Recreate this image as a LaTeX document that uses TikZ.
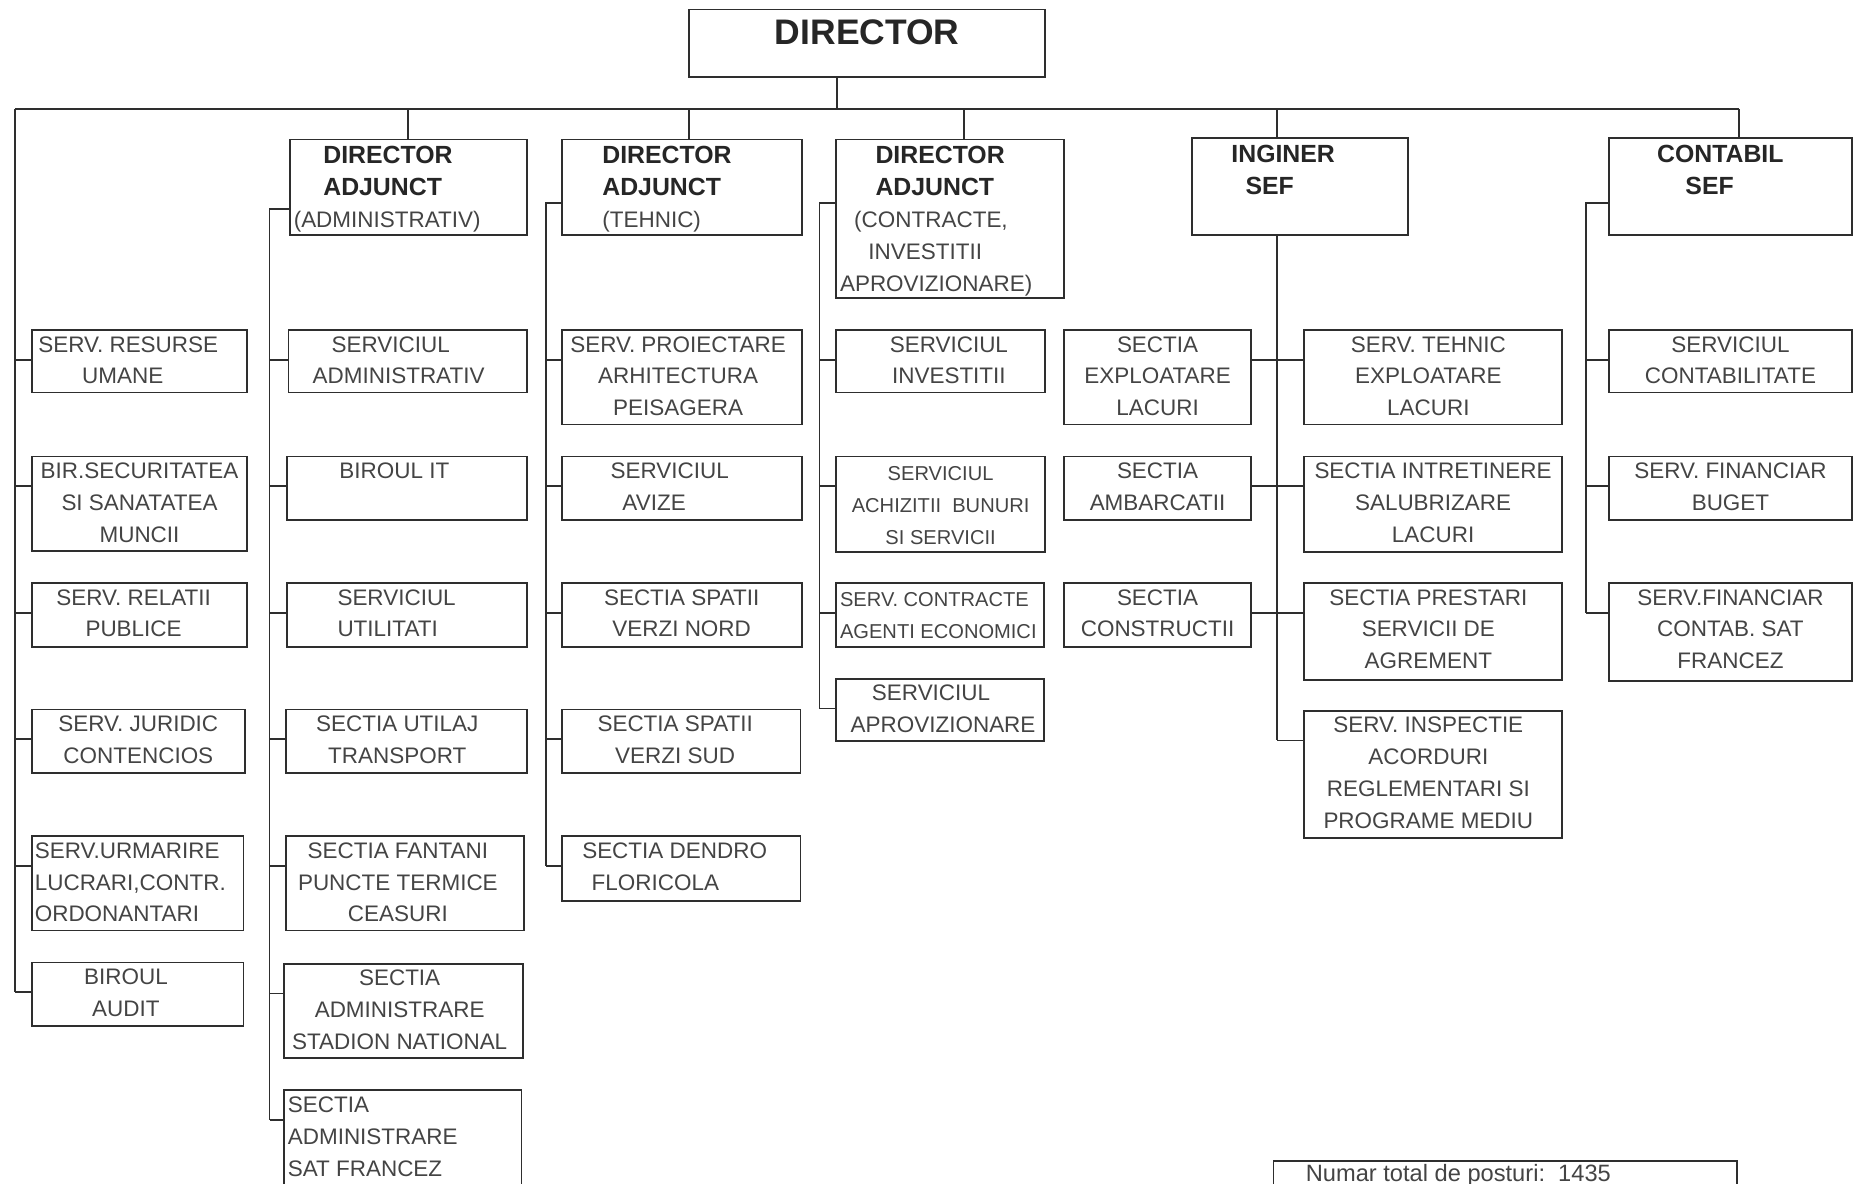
\documentclass[tikz,border=0pt]{standalone}
\usepackage{fontspec}
\setmainfont{Liberation Sans}
\usetikzlibrary{calc}
\definecolor{ln}{HTML}{2E2E2E}
\definecolor{tx}{HTML}{444444}
\definecolor{bt}{HTML}{262626}
\newcommand{\hb}[1]{{\fontsize{21}{27}\selectfont\bfseries\color{bt}#1}}
\newcommand{\bx}[7]{%
  \node[box,minimum width=#4pt-#2pt,minimum height=#5pt-#3pt] (#1) at ({(#2+#4)/2},{(#3+#5)/2}) {};
  \node[txt,anchor=north,#6] (#1t) at ($(#1.north)+(0,6)$) {#7};}
\newcommand{\bxl}[8]{%
  \node[box,minimum width=#4pt-#2pt,minimum height=#5pt-#3pt] (#1) at ({(#2+#4)/2},{(#3+#5)/2}) {};
  \node[txt,anchor=north west,align=left,#7] (#1t) at ($(#1.north west)+(#6,6)$) {#8};}
\newcommand{\cn}[2]{\path ($(#2.north west)+(0,26)$) coordinate (#2k); \draw[wire] (#2k) -- (#2k -| #1) coordinate (#2c);}
\newcommand{\cnr}[2]{\path ($(#2.north east)+(0,26)$) coordinate (#2k); \draw[wire] (#2k) -- (#2k -| #1) coordinate (#2c);}
\begin{document}
\begin{tikzpicture}[x=1pt,y=-1pt,
  box/.style={draw=ln,line width=1.5pt,rectangle,inner sep=0pt,fill=none},
  txt/.style={text=tx,font=\fontsize{19}{27}\selectfont,inner sep=0pt,align=center},
  sm/.style={font=\fontsize{17}{27}\selectfont,yshift=-3pt},
  wire/.style={draw=ln,line width=1.5pt}]
\useasboundingbox[fill=white] (0,0) rectangle (1568,1001);
\clip (0,0) rectangle (1568,1001);

% top
\bx{dir}{583}{8}{884}{65}{font=\fontsize{30}{36}\selectfont\bfseries,text=bt,yshift=-3pt}{DIRECTOR}

% left column
\bxl{l1}{27}{279}{209}{332}{6}{}{SERV. RESURSE\\\hspace*{37pt}UMANE}
\bx{l2}{27}{386}{209}{466}{}{BIR.SECURITATEA\\SI SANATATEA\\MUNCII}
\bx{l3}{27}{493}{209}{547}{xshift=-5pt}{SERV. RELATII\\PUBLICE}
\bx{l4}{27}{600}{207}{654}{}{SERV. JURIDIC\\CONTENCIOS}
\bxl{l5}{27}{707}{206}{787}{3}{}{SERV.URMARIRE\\LUCRARI,CONTR.\\ORDONANTARI}
\bx{l6}{27}{814}{206}{868}{xshift=-10pt}{BIROUL\\AUDIT}

% administrativ
\bxl{daA}{245}{118}{446}{199}{4}{}{\hspace*{25pt}\hb{DIRECTOR}\\\hspace*{25pt}\hb{ADJUNCT}\\(ADMINISTRATIV)}
\bxl{a1}{244}{279}{446}{332}{21}{}{\hspace*{16pt}SERVICIUL\\ADMINISTRATIV}
\bx{a2}{243}{386}{446}{440}{xshift=-11pt}{BIROUL IT}
\bxl{a3}{243}{493}{446}{547}{43}{}{SERVICIUL\\UTILITATI}
\bx{a4}{242}{600}{446}{654}{xshift=-8pt}{SECTIA UTILAJ\\TRANSPORT}
\bx{a5}{242}{707}{443}{787}{xshift=-6pt}{SECTIA FANTANI\\PUNCTE TERMICE\\CEASURI}
\bx{a6}{240}{815}{442}{895}{xshift=-3pt}{SECTIA\\ADMINISTRARE\\STADION NATIONAL}
\bxl{a7}{240}{922}{441}{1012}{4}{}{SECTIA\\ADMINISTRARE\\SAT FRANCEZ}

% tehnic
\bxl{daT}{475}{118}{678}{199}{35}{}{\hb{DIRECTOR}\\\hb{ADJUNCT}\\(TEHNIC)}
\bx{t1}{475}{279}{678}{359}{xshift=-3pt}{SERV. PROIECTARE\\ARHITECTURA\\PEISAGERA}
\bxl{t2}{475}{386}{678}{440}{42}{}{SERVICIUL\\\hspace*{10pt}AVIZE}
\bx{t3}{475}{493}{678}{547}{}{SECTIA SPATII\\VERZI NORD}
\bx{t4}{475}{600}{677}{654}{xshift=-5pt}{SECTIA SPATII\\VERZI SUD}
\bxl{t5}{475}{707}{677}{762}{18}{}{SECTIA DENDRO\\\hspace*{8pt}FLORICOLA}

% contracte
\bxl{daC}{707}{118}{900}{252}{4}{}{\hspace*{30pt}\hb{DIRECTOR}\\\hspace*{30pt}\hb{ADJUNCT}\\\hspace*{12pt}(CONTRACTE,\\\hspace*{24pt}INVESTITII\\APROVIZIONARE)}
\bx{c1}{707}{279}{884}{332}{xshift=7pt}{SERVICIUL\\INVESTITII}
\bx{c2}{707}{386}{884}{467}{sm}{SERVICIUL\\ACHIZITII\ \ BUNURI\\SI SERVICII}
\bxl{c3}{707}{493}{883}{547}{4}{sm}{SERV. CONTRACTE\\AGENTI ECONOMICI}
\bxl{c4}{707}{574}{883}{627}{13}{}{\hspace*{18pt}SERVICIUL\\APROVIZIONARE}

% inginer sef
\bxl{ing}{1008}{117}{1191}{199}{34}{}{\hb{INGINER}\\\hspace*{12pt}\hb{SEF}}
\bx{il1}{900}{279}{1058}{359}{}{SECTIA\\EXPLOATARE\\LACURI}
\bx{il2}{900}{386}{1058}{440}{}{SECTIA\\AMBARCATII}
\bx{il3}{900}{493}{1058}{547}{}{SECTIA\\CONSTRUCTII}
\bx{ir1}{1103}{279}{1321}{359}{xshift=-4pt}{SERV. TEHNIC\\EXPLOATARE\\LACURI}
\bx{ir2}{1103}{386}{1321}{467}{}{SECTIA INTRETINERE\\SALUBRIZARE\\LACURI}
\bx{ir3}{1103}{493}{1321}{575}{xshift=-4pt}{SECTIA PRESTARI\\SERVICII DE\\AGREMENT}
\bx{ir4}{1103}{601}{1321}{709}{xshift=-4pt}{SERV. INSPECTIE\\ACORDURI\\REGLEMENTARI SI\\PROGRAME MEDIU}

% contabil sef
\bxl{cs}{1361}{117}{1566}{199}{41}{}{\hb{CONTABIL}\\\hspace*{24pt}\hb{SEF}}
\bx{f1}{1361}{279}{1566}{332}{}{SERVICIUL\\CONTABILITATE}
\bx{f2}{1361}{386}{1566}{440}{}{SERV. FINANCIAR\\BUGET}
\bx{f3}{1361}{493}{1566}{576}{}{SERV.FINANCIAR\\CONTAB. SAT\\FRANCEZ}

% total
\bxl{tot}{1077}{982}{1469}{1020}{28}{font=\fontsize{20}{24}\selectfont,yshift=3pt}{Numar total de posturi:\ \ 1435}

% bus
\coordinate (busL) at (13,92);
\coordinate (busR) at (1471,92);
\coordinate (bd) at (708,92);
\coordinate (b1) at (345,92);
\coordinate (b2) at (583,92);
\coordinate (b3) at (815,92);
\coordinate (b4) at (1080,92);
\draw[wire] (busL) -- (busR);
\draw[wire] (bd) -- (bd |- dir.south);
\draw[wire] (b1) -- (b1 |- daA.north);
\draw[wire] (b2) -- (b2 |- daT.north);
\draw[wire] (b3) -- (b3 |- daC.north);
\draw[wire] (b4) -- (b4 |- ing.north);
\draw[wire] (busR) -- (busR |- cs.north);

% spines
\coordinate (sA) at (228,177);
\coordinate (sT) at (462,172);
\coordinate (sC) at (693,172);
\coordinate (sI) at (1080,199);
\coordinate (sF) at (1341,172);

\foreach \c in {l1,l2,l3,l4,l5,l6}{\cn{busL}{\c}}
\foreach \c in {a1,a2,a3,a4,a5,a6,a7}{\cn{sA}{\c}}
\foreach \c in {t1,t2,t3,t4,t5}{\cn{sT}{\c}}
\foreach \c in {c1,c2,c3,c4}{\cn{sC}{\c}}
\foreach \c in {ir1,ir2,ir3,ir4}{\cn{sI}{\c}}
\foreach \c in {il1,il2,il3}{\cnr{sI}{\c}}
\foreach \c in {f1,f2,f3}{\cn{sF}{\c}}

\draw[wire] (busL) -- ($(busL |- l6.north)+(0,26)$);
\draw[wire] (daA.west |- sA) -- (sA) -- ($(sA |- a7.north)+(0,26)$);
\draw[wire] (daT.west |- sT) -- (sT) -- ($(sT |- t5.north)+(0,26)$);
\draw[wire] (daC.west |- sC) -- (sC) -- ($(sC |- c4.north)+(0,26)$);
\draw[wire] (ing.south -| sI) -- ($(sI |- ir4.north)+(0,26)$);
\draw[wire] (cs.west |- sF) -- (sF) -- ($(sF |- f3.north)+(0,26)$);
\end{tikzpicture}
\end{document}
